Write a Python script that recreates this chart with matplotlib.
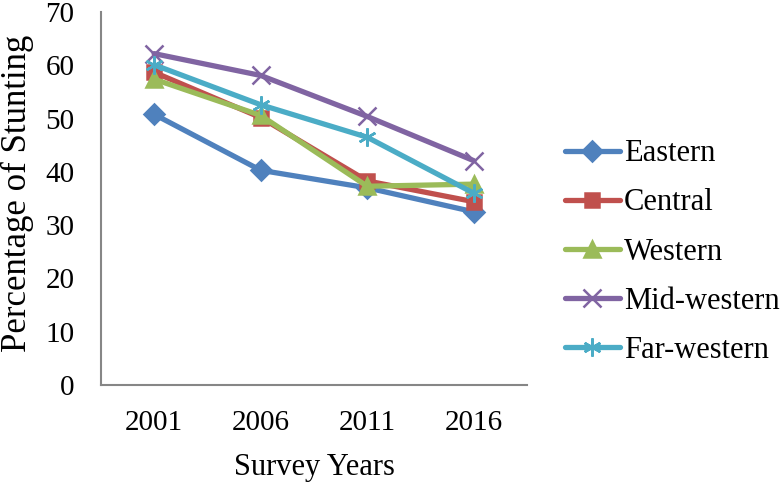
import matplotlib
matplotlib.use("Agg")
import matplotlib.pyplot as plt

plt.rcParams['font.family'] = ['Liberation Serif', 'DejaVu Serif']

years = ['2001', '2006', '2011', '2016']
eastern = [50.8, 40.3, 37.0, 32.5]
central = [58.7, 50.2, 38.3, 34.4]
western = [57.4, 50.6, 37.3, 37.7]
mid_western = [62.2, 58.1, 50.4, 42.1]
far_western = [60.1, 52.6, 46.5, 36.0]

series = [
    ('Eastern', eastern, '#4F81BD', 'D', 10),
    ('Central', central, '#C0504D', 's', 10),
    ('Western', western, '#9BBB59', '^', 12),
    ('Mid-western', mid_western, '#8064A2', 'x', 13),
    ('Far-western', far_western, '#4BACC6', (6, 2, 0), 13),
]

fig = plt.figure(figsize=(7.82, 4.83), dpi=100)
ax = fig.add_axes([0.129, 0.203, 0.545, 0.772])

x = range(len(years))
for name, vals, col, mk, ms in series:
    ax.plot(x, vals, color=col, linewidth=3.8, marker=mk, markersize=ms,
            markeredgewidth=1.8, markeredgecolor=col, markerfacecolor=col,
            label=name, solid_capstyle='round')

ax.set_xlim(-0.5, len(years) - 0.5)
ax.set_ylim(0, 70)
ax.set_yticks(range(0, 71, 10))
ax.set_xticks(list(x))
ax.set_xticklabels(years)
ax.tick_params(length=0, labelsize=21)
ax.tick_params(axis='x', pad=18)
ax.tick_params(axis='y', pad=19)

for side in ['top', 'right']:
    ax.spines[side].set_visible(False)
for side in ['left', 'bottom']:
    ax.spines[side].set_color('#868686')
    ax.spines[side].set_linewidth(1.5)

ax.set_xlabel('Survey Years', fontsize=22)
ax.xaxis.set_label_coords(0.5, -0.182)

# y label placed in figure coords so it sits right at the left edge
fig.text(0.022, 0.6, 'Percentage of Stunting', fontsize=25, rotation=90,
         ha='center', va='center')

fig.legend(loc='center left', bbox_to_anchor=(0.7225, 0.478), frameon=False,
           fontsize=22, handlelength=1.8, handletextpad=0.13, labelspacing=0.66,
           borderpad=0, borderaxespad=0)

fig.savefig('out.png', dpi=100)
